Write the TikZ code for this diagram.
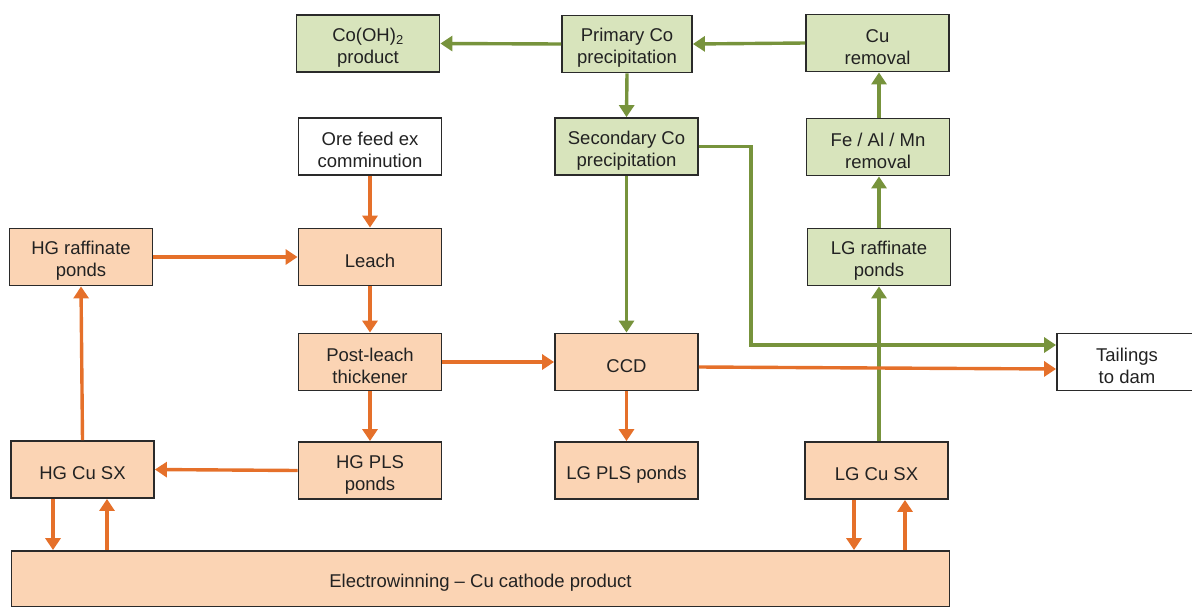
\documentclass[tikz,border=0pt]{standalone}
\usepackage{fontspec}
\setmainfont{Liberation Sans}
\usetikzlibrary{arrows.meta}
\definecolor{gfill}{HTML}{D8E4BC}
\definecolor{ofill}{HTML}{FBD4B4}
\definecolor{gline}{HTML}{77933C}
\definecolor{oline}{HTML}{E5702A}
\definecolor{bord}{HTML}{2A2A2A}
\definecolor{txt}{HTML}{222222}
\newcommand{\fstrut}{\rule{0pt}{21pt}}
\begin{document}
\begin{tikzpicture}[x=1pt,y=-1pt,
  box/.style={draw=bord,line width=1.8pt,minimum width=143pt,minimum height=57pt,
    inner sep=2pt,align=center,text=txt,font=\fontsize{18.5}{22}\selectfont},
  gbox/.style={box,fill=gfill},
  obox/.style={box,fill=ofill},
  wbox/.style={box,fill=white},
  garr/.style={draw=gline,line width=3.4pt,-{Triangle[width=15pt,length=12pt]}},
  oarr/.style={draw=oline,line width=3.4pt,-{Triangle[width=15pt,length=12pt]}}]
\useasboundingbox (0,0) rectangle (1192,606);
% top row
\node[gbox] (cooh) at (368,43.5) {\fstrut Co(OH)\textsubscript{2}\\product};
\node[gbox,minimum width=130pt] (prim) at (627,44) {\fstrut Primary Co\\precipitation};
\node[gbox] (cur) at (877.5,43) {\fstrut Cu\\removal};
% second row
\node[wbox] (ore) at (370,146.5) {\fstrut Ore feed ex\\comminution};
\node[gbox] (sec) at (626.5,146.5) {\fstrut Secondary Co\\precipitation};
\node[gbox] (fe) at (878,147) {\fstrut Fe / Al / Mn\\removal};
% third row
\node[obox] (hgraff) at (81,257) {\fstrut HG raffinate\\ponds};
\node[obox] (leach) at (370,257) {\fstrut Leach};
\node[gbox] (lgraff) at (879,257) {\fstrut LG raffinate\\ponds};
% fourth row
\node[obox] (post) at (370,362) {\fstrut Post-leach\\thickener};
\node[obox] (ccd) at (626.5,362) {\fstrut CCD};
\node[wbox,minimum width=140pt] (tail) at (1127,362) {\fstrut Tailings\\to dam};
% fifth row
\node[obox] (hgsx) at (82.5,469.5) {\fstrut HG Cu SX};
\node[obox] (hgpls) at (370,470.5) {\fstrut HG PLS\\ponds};
\node[obox] (lgpls) at (626.5,470.5) {\fstrut LG PLS ponds};
\node[obox] (lgsx) at (876.5,470.5) {\fstrut LG Cu SX};
% electrowinning
\node[obox,minimum width=938pt,minimum height=56pt] (ew) at (480.5,579) {\fstrut Electrowinning -- Cu cathode product};
% helper coordinates
\coordinate (gbend) at (751,345);
\coordinate (xa) at (53,0);
\coordinate (xb) at (107,0);
\coordinate (xc) at (854,0);
\coordinate (xd) at (905,0);
\coordinate (xe) at (879,0);
% green flows
\draw[garr] (prim.west) -- (cooh.east);
\draw[garr] (cur.west) -- (prim.east);
\draw[garr] (prim.south) -- (sec.north);
\draw[garr] (fe.north -| xe) -- (cur.south -| xe);
\draw[garr] (lgraff.north -| xe) -- (fe.south -| xe);
\draw[garr] (lgsx.north -| xe) -- (lgraff.south -| xe);
\draw[garr] (sec.south) -- (ccd.north);
\draw[garr] (sec.east) -| (gbend) -- (tail.west |- gbend);
% orange flows
\draw[oarr] (ore.south) -- (leach.north);
\draw[oarr] (hgraff.east) -- (leach.west);
\draw[oarr] (leach.south) -- (post.north);
\draw[oarr] (post.east) -- (ccd.west);
\draw[oarr] ([yshift=-5pt]ccd.east) -- ([yshift=-7pt]tail.west);
\draw[oarr] (post.south) -- (hgpls.north);
\draw[oarr] (ccd.south) -- (lgpls.north);
\draw[oarr] (hgpls.west) -- (hgsx.east);
\draw[oarr] (hgsx.north) -- (hgraff.south);
\draw[oarr] (hgsx.south -| xa) -- (ew.north -| xa);
\draw[oarr] (ew.north -| xb) -- (hgsx.south -| xb);
\draw[oarr] (lgsx.south -| xc) -- (ew.north -| xc);
\draw[oarr] (ew.north -| xd) -- (lgsx.south -| xd);
\end{tikzpicture}
\end{document}
